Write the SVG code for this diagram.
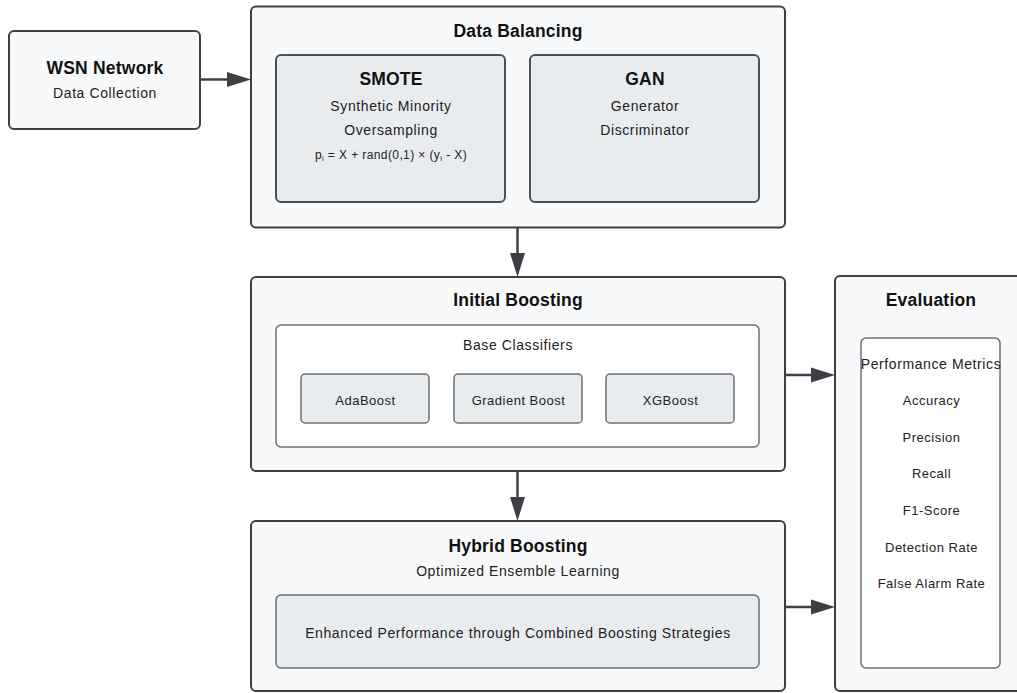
<svg xmlns="http://www.w3.org/2000/svg" width="1017" height="693" viewBox="0 0 1017 693">
<defs>
<style>
.outer{fill:#f8f9fa;stroke:#3c4046;stroke-width:2}
.inner{fill:#e9ecef;stroke:#4b5057;stroke-width:2}
.white{fill:#ffffff;stroke:#6c7075;stroke-width:1.5}
.cls{fill:#e9ecef;stroke:#6c7075;stroke-width:1.5}
.title{font-family:"Liberation Sans",Arial,sans-serif;font-weight:bold;font-size:17.5px;fill:#111;text-anchor:middle;letter-spacing:0.2px}
.sub{font-family:"Liberation Sans",Arial,sans-serif;font-size:14px;fill:#222;text-anchor:middle;letter-spacing:0.6px}
.item{font-family:"Liberation Sans",Arial,sans-serif;font-size:13px;fill:#222;text-anchor:middle;letter-spacing:0.5px}
.small{font-family:"Liberation Sans",Arial,sans-serif;font-size:12px;fill:#222;text-anchor:middle;letter-spacing:0.4px}
.conn{stroke:#3c4046;stroke-width:2.5;fill:none}
</style>
</defs>
<rect width="1017" height="693" fill="#ffffff"/>

<g id="connectors">
<line class="conn" x1="200" y1="79.5" x2="228" y2="79.5"/>
<path d="M227,72 L251,79.5 L227,87 Z" fill="#3c4046"/>
<line class="conn" x1="517.5" y1="227" x2="517.5" y2="255"/>
<path d="M510,253 L517.5,277 L525,253 Z" fill="#3c4046"/>
<line class="conn" x1="517.5" y1="471" x2="517.5" y2="499"/>
<path d="M510,497 L517.5,521 L525,497 Z" fill="#3c4046"/>
<line class="conn" x1="785" y1="375" x2="813" y2="375"/>
<path d="M811,367.5 L835,375 L811,382.5 Z" fill="#3c4046"/>
<line class="conn" x1="785" y1="607" x2="813" y2="607"/>
<path d="M811,599.5 L835,607 L811,614.5 Z" fill="#3c4046"/>
</g>

<g id="wsn">
<rect class="outer" x="9" y="31" width="191" height="98" rx="5"/>
<text class="title" x="105" y="74">WSN Network</text>
<text class="sub" x="105" y="98">Data Collection</text>
</g>

<g id="data-balancing">
<rect class="outer" x="251" y="6.5" width="534" height="221" rx="5"/>
<text class="title" x="518" y="37">Data Balancing</text>
<g id="smote">
<rect class="inner" x="276" y="55" width="229" height="147" rx="5"/>
<text class="title" x="391" y="85">SMOTE</text>
<text class="sub" x="391" y="111">Synthetic Minority</text>
<text class="sub" x="391" y="135">Oversampling</text>
<text class="small" x="391" y="159">p<tspan font-size="8" dy="2">i</tspan><tspan dy="-2"> = X + rand(0,1) × (y</tspan><tspan font-size="8" dy="2">i</tspan><tspan dy="-2"> - X)</tspan></text>
</g>
<g id="gan">
<rect class="inner" x="530" y="55" width="229" height="147" rx="5"/>
<text class="title" x="645" y="85">GAN</text>
<text class="sub" x="645" y="111">Generator</text>
<text class="sub" x="645" y="135">Discriminator</text>
</g>
</g>

<g id="initial-boosting">
<rect class="outer" x="251" y="277" width="534" height="194" rx="5"/>
<text class="title" x="518" y="306">Initial Boosting</text>
<rect class="white" x="276" y="325" width="483" height="122" rx="5"/>
<text class="sub" x="518" y="350">Base Classifiers</text>
<g id="adaboost">
<rect class="cls" x="301" y="374" width="128" height="49" rx="4"/>
<text class="item" x="365.5" y="405">AdaBoost</text>
</g>
<g id="gradient-boost">
<rect class="cls" x="454" y="374" width="128" height="49" rx="4"/>
<text class="item" x="518.5" y="405">Gradient Boost</text>
</g>
<g id="xgboost">
<rect class="cls" x="606" y="374" width="128" height="49" rx="4"/>
<text class="item" x="670.5" y="405">XGBoost</text>
</g>
</g>

<g id="hybrid-boosting">
<rect class="outer" x="251" y="521" width="534" height="170" rx="5"/>
<text class="title" x="518" y="552">Hybrid Boosting</text>
<text class="sub" x="518" y="576">Optimized Ensemble Learning</text>
<rect class="cls" x="276" y="595" width="483" height="73" rx="5"/>
<text class="sub" x="518" y="638">Enhanced Performance through Combined Boosting Strategies</text>
</g>

<g id="evaluation">
<rect class="outer" x="835" y="276" width="190" height="415" rx="5"/>
<text class="title" x="931" y="306">Evaluation</text>
<rect class="white" x="861" y="338" width="139" height="330" rx="5"/>
<text class="sub" x="931" y="369">Performance Metrics</text>
<text class="item" x="931.5" y="405">Accuracy</text>
<text class="item" x="931.5" y="442">Precision</text>
<text class="item" x="931.5" y="478">Recall</text>
<text class="item" x="931.5" y="515">F1-Score</text>
<text class="item" x="931.5" y="552">Detection Rate</text>
<text class="item" x="931.5" y="588">False Alarm Rate</text>
</g>
</svg>
